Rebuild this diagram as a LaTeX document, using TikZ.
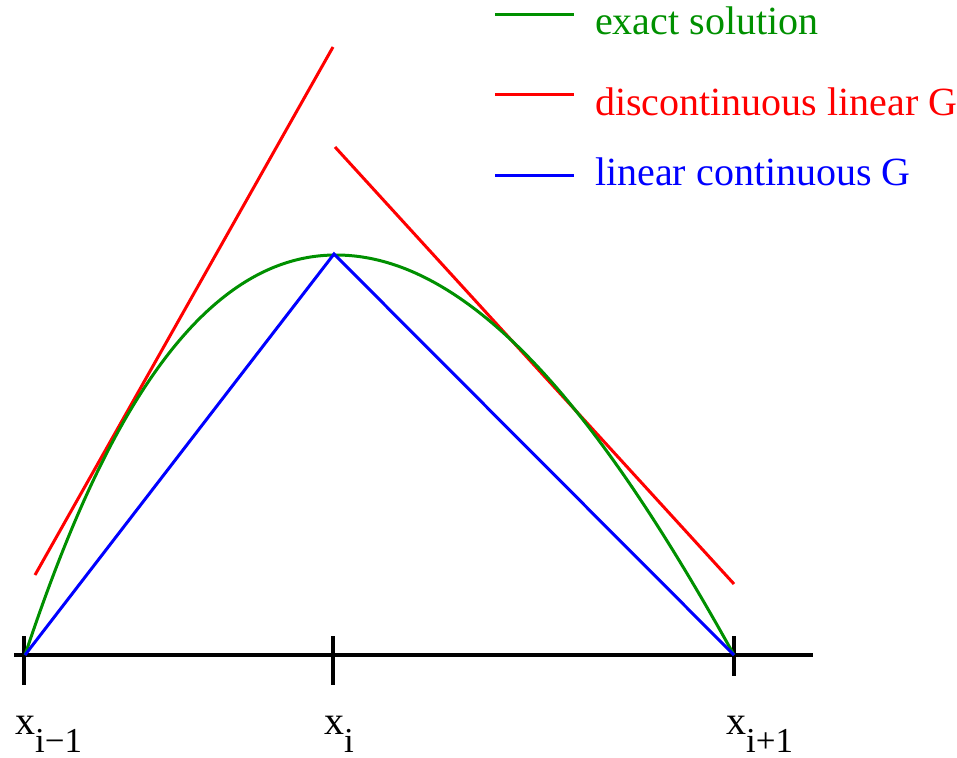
\documentclass[tikz,border=0pt]{standalone}
\usepackage{fontspec}
\setmainfont{Liberation Serif}
\definecolor{exgreen}{RGB}{0,144,0}
\definecolor{dgred}{RGB}{255,0,0}
\definecolor{cgblue}{RGB}{0,0,255}
\tikzset{
  curve/.style={line width=3pt},
  axisline/.style={line width=4pt,black},
  tickline/.style={line width=3.5pt,black},
  legtext/.style={anchor=base west,inner sep=0pt,font=\fontsize{40}{48}\selectfont},
  ticklabel/.style={anchor=base west,inner sep=0pt,font=\fontsize{40}{48}\selectfont},
}
\newcommand{\subtxt}[1]{\raisebox{-18pt}{\fontsize{35}{42}\selectfont #1}}
\begin{document}
\begin{tikzpicture}[x=1pt,y=-1pt]
\useasboundingbox (0,0) rectangle (957,757);
% key points
\coordinate (xa) at (25,655);
\coordinate (xc) at (734,655);
\coordinate (pk) at (334,254);
\coordinate (gpk) at (336,255);
% axis and ticks
\coordinate (axl) at (14,655);
\coordinate (axr) at (813,655);
\draw[axisline] (axl) -- (axr);
\coordinate (ta1) at (24,636); \coordinate (ta2) at (24,685);
\coordinate (tb1) at (333,636); \coordinate (tb2) at (333,685);
\coordinate (tc1) at (734,636); \coordinate (tc2) at (734,676);
\draw[tickline] (ta1) -- (ta2);
\draw[tickline] (tb1) -- (tb2);
\draw[tickline] (tc1) -- (tc2);
% red discontinuous linear
\coordinate (ra1) at (35,575); \coordinate (ra2) at (333,47);
\coordinate (rb1) at (335,147); \coordinate (rb2) at (734,584);
\draw[curve,dgred] (ra1) -- (ra2);
\draw[curve,dgred] (rb1) -- (rb2);
% exact solution
\draw[curve,exgreen] (xa) .. controls (85,475) and (180,255) .. (gpk)
                          .. controls (485,255) and (620,450) .. (xc);
% blue continuous linear
\draw[curve,cgblue,line join=miter] (xa) -- (pk) -- (xc);
% tick labels
\node[ticklabel] (la) at (15,734) {x\subtxt{i−1}};
\node[ticklabel] (lb) at (324,734) {x\subtxt{i}};
\node[ticklabel] (lc) at (726,734) {x\subtxt{i+1}};
% legend
\coordinate (lg1) at (495,15); \coordinate (lg2) at (574,15);
\coordinate (lr1) at (495,95); \coordinate (lr2) at (574,95);
\coordinate (lbl1) at (495,175); \coordinate (lbl2) at (574,175);
\draw[curve,exgreen] (lg1) -- (lg2);
\draw[curve,dgred] (lr1) -- (lr2);
\draw[curve,cgblue] (lbl1) -- (lbl2);
\node[legtext,text=exgreen] (tg) at (595,35) {exact solution};
\node[legtext,text=dgred] (tr) at (595,115) {discontinuous linear G};
\node[legtext,text=cgblue] (tbl) at (595,185) {linear continuous G};
\end{tikzpicture}
\end{document}
